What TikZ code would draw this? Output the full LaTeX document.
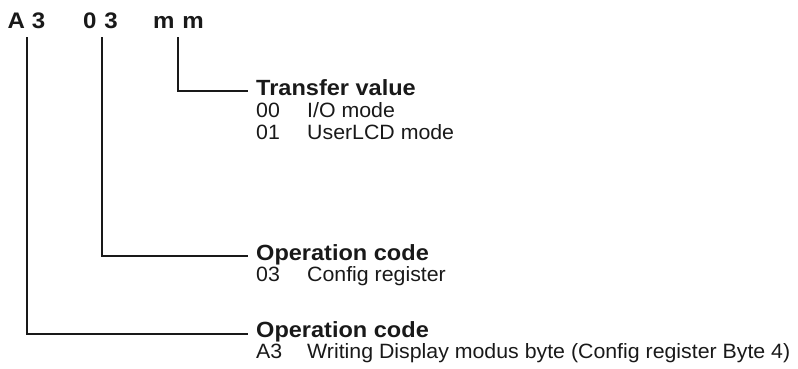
\documentclass[tikz,border=0pt]{standalone}
\usepackage{fontspec}
\setmainfont{Liberation Sans}
\newfontfamily\wideboldfont{Liberation Sans}[FakeStretch=1.07]
\newfontfamily\widefont{Liberation Sans}[FakeStretch=1.03]
\begin{document}
\begin{tikzpicture}[x=1pt,y=-1pt,
  conn/.style={line width=1.3pt, draw=black!90},
  hdr/.style={font=\wideboldfont\fontsize{22.5}{22.5}\selectfont\bfseries, anchor=base, inner sep=0pt, text=black!90},
  ttl/.style={font=\wideboldfont\fontsize{22}{22}\selectfont\bfseries, anchor=base west, inner sep=0pt, text=black!90},
  itm/.style={font=\widefont\fontsize{20.7}{20.7}\selectfont, anchor=base west, inner sep=0pt, text=black!90}]
\useasboundingbox (0,0) rectangle (798,368);
% header
\node[hdr] (hA) at (26.5,28) {A\kern7pt 3};
\node[hdr] (h0) at (100.5,28) {0\kern8pt 3};
\node[hdr] (hm) at (178.5,28) {m\kern8pt m};
\coordinate (tA) at (27,37);
\coordinate (t0) at (102,37);
\coordinate (tm) at (178,37);
% labels
\node[ttl] (L1) at (256,95) {Transfer value};
\node[itm] (L1a) at (256,117) {00};
\node[itm] (L1ad) at (307,117) {I/O mode};
\node[itm] (L1b) at (256,139) {01};
\node[itm] (L1bd) at (307,139) {UserLCD mode};
\node[ttl] (L2) at (256,260) {Operation code};
\node[itm] (L2a) at (256,281) {03};
\node[itm] (L2ad) at (307,281) {Config register};
\node[ttl] (L3) at (256,337) {Operation code};
\node[itm] (L3a) at (256,358) {A3};
\node[itm] (L3ad) at (307,358) {Writing Display modus byte (Config register Byte 4)};
\coordinate (eA) at (248,334);
\coordinate (e0) at (248,256);
\coordinate (em) at (248,91);
\draw[conn] (tm) |- (em);
\draw[conn] (t0) |- (e0);
\draw[conn] (tA) |- (eA);
\end{tikzpicture}
\end{document}
